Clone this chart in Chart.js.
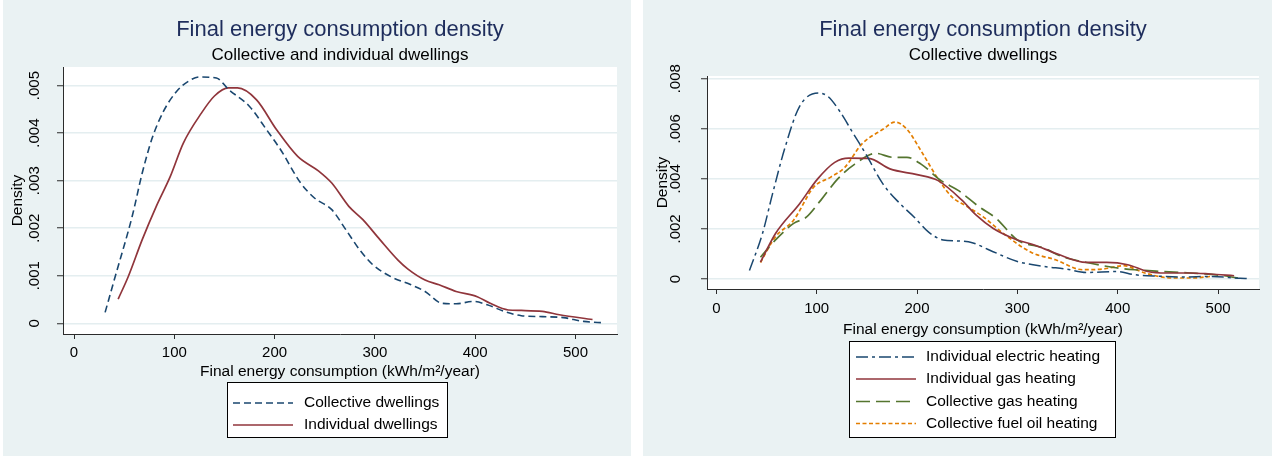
<!DOCTYPE html>
<html><head><meta charset="utf-8">
<script src="https://cdn.jsdelivr.net/npm/chart.js@4.4.1/dist/chart.umd.min.js"></script>
<style>
html,body{margin:0;padding:0;background:#fff;width:1275px;height:459px;overflow:hidden;position:relative}
canvas{position:absolute;top:0}
#c1{left:0}
#c2{left:640px}
</style></head>
<body>
<canvas id="c1" width="640" height="459"></canvas>
<canvas id="c2" width="635" height="459"></canvas>
<script>
// ---------- data ----------
const xTicks = [0, 100, 200, 300, 400, 500];
const xTickLabels = ['0', '100', '200', '300', '400', '500'];
const leftYTicks = [0, 0.001, 0.002, 0.003, 0.004, 0.005];
const leftYTickLabels = ['0', '.001', '.002', '.003', '.004', '.005'];
const rightYTicks = [0, 0.002, 0.004, 0.006, 0.008];
const rightYTickLabels = ['0', '.002', '.004', '.006', '.008'];

const collectiveX = [31, 41, 58, 68, 78, 89, 102, 114, 125, 142, 154, 175, 192, 206, 226, 240, 257, 271, 285, 298, 316, 336, 350, 367, 381, 398, 412, 429, 446, 467, 488, 508, 529];
const collectiveY = [0.00023, 0.00098, 0.00225, 0.00316, 0.0039, 0.00445, 0.00487, 0.00509, 0.00518, 0.00516, 0.00492, 0.00456, 0.00407, 0.00365, 0.00295, 0.00263, 0.00239, 0.00197, 0.00154, 0.00123, 0.00098, 0.00081, 0.00067, 0.00042, 0.00041, 0.00046, 0.00039, 0.00025, 0.00016, 0.00014, 0.00012, 0.00004, 0.00001];

const individualX = [44, 54, 68, 82, 96, 109, 127, 140, 154, 163, 182, 202, 223, 244, 257, 274, 288, 305, 323, 333, 350, 364, 381, 402, 415, 433, 446, 467, 484, 517];
const individualY = [0.00051, 0.00098, 0.00176, 0.00246, 0.00309, 0.00379, 0.00442, 0.00478, 0.00495, 0.00495, 0.0047, 0.00407, 0.00351, 0.0032, 0.00295, 0.00246, 0.00218, 0.00176, 0.00133, 0.00114, 0.00091, 0.00081, 0.00067, 0.00056, 0.00042, 0.00028, 0.00027, 0.00025, 0.00018, 0.00008];

const elecX = [33, 46, 56, 68, 83, 102, 111, 123, 135, 149, 166, 183, 197, 211, 226, 241, 255, 272, 300, 327, 348, 369, 399, 417, 441, 465, 492, 522, 530];
const elecY = [0.00034, 0.00182, 0.0034, 0.00519, 0.0069, 0.00743, 0.0073, 0.0067, 0.00591, 0.00499, 0.0038, 0.00301, 0.00248, 0.00189, 0.00156, 0.00152, 0.00145, 0.00116, 0.0007, 0.0005, 0.0004, 0.00026, 0.0003, 0.00017, 0.00011, 0.00008, 0.0001, 0.00003, 0.00002];

const indGasX = [44, 59, 83, 101, 118, 132, 152, 173, 200, 221, 245, 259, 276, 300, 317, 338, 369, 389, 410, 430, 448, 472, 492, 516];
const indGasY = [0.00067, 0.00182, 0.00301, 0.004, 0.00466, 0.00483, 0.00482, 0.0044, 0.00417, 0.00393, 0.00314, 0.00255, 0.00202, 0.00156, 0.00136, 0.00103, 0.00066, 0.00066, 0.00057, 0.0003, 0.00024, 0.00024, 0.0002, 0.00013];

const colGasX = [44, 59, 77, 90, 104, 121, 138, 159, 176, 190, 204, 224, 241, 262, 279, 300, 327, 344, 369, 396, 417, 444, 472, 506, 522];
const colGasY = [0.00087, 0.00156, 0.00222, 0.00248, 0.00314, 0.004, 0.00459, 0.00502, 0.00486, 0.00486, 0.00459, 0.00393, 0.00354, 0.00288, 0.00242, 0.00156, 0.00123, 0.0009, 0.00066, 0.00046, 0.00037, 0.0003, 0.00024, 0.00013, 0.00002];

const oilX = [44, 59, 77, 97, 114, 128, 145, 166, 178, 190, 204, 221, 235, 248, 266, 286, 314, 338, 365, 386, 406, 427, 454, 475, 492];
const oilY = [0.00066, 0.00169, 0.00235, 0.00367, 0.00407, 0.00446, 0.00539, 0.00598, 0.00627, 0.00598, 0.00512, 0.004, 0.00327, 0.00294, 0.00248, 0.00182, 0.00106, 0.00077, 0.00037, 0.0004, 0.00053, 0.00024, 0.00004, 0.00004, 0.0001];

// ---------- style ----------
const FONT = "'Liberation Sans', Arial, sans-serif";
const BG = '#eaf2f3';
const GRID = '#e4eef0';
const AXIS = '#2b2b2b';
const TITLE_C = '#1e2d5c';
const NAVY = '#1a476f', MAROON = '#90353b', GREEN = '#55752f', ORANGE = '#e37e00';

function pts(xs, ys) { return xs.map((x, i) => ({x: x, y: ys[i]})); }

function ds(label, xs, ys, color, dash, w) {
  return {label, data: pts(xs, ys), borderColor: color, borderDash: dash, borderWidth: w || 1.6,
    pointRadius: 0, fill: false, tension: 0.4, cubicInterpolationMode: 'monotone'};
}

function panelPlugin(cfg) {
  return {
    id: 'panel' + cfg.id,
    beforeDraw(chart) {
      const ctx = chart.ctx, a = chart.chartArea;
      ctx.save();
      ctx.fillStyle = '#fff'; ctx.fillRect(0, 0, chart.width, chart.height);
      ctx.fillStyle = BG; ctx.fillRect(cfg.panel[0], cfg.panel[1], cfg.panel[2] - cfg.panel[0], cfg.panel[3] - cfg.panel[1]);
      ctx.fillStyle = '#fff'; ctx.fillRect(a.left, a.top, a.right - a.left, a.bottom - a.top);
      ctx.restore();
    },
    afterDraw(chart) {
      const ctx = chart.ctx, a = chart.chartArea;
      const xs = chart.scales.x, ys = chart.scales.y;
      const cx = (a.left + a.right) / 2;
      ctx.save();
      ctx.textAlign = 'center'; ctx.textBaseline = 'middle';
      // titles
      ctx.fillStyle = TITLE_C; ctx.font = '22px ' + FONT;
      ctx.fillText(cfg.title, cx, cfg.titleY);
      ctx.fillStyle = '#000'; ctx.font = '17px ' + FONT;
      ctx.fillText(cfg.subtitle, cx, cfg.subY);
      // x tick labels
      ctx.font = '15px ' + FONT;
      xTicks.forEach((v, i) => ctx.fillText(xTickLabels[i], xs.getPixelForValue(v), cfg.xLabY));
      // x title
      ctx.font = '15.5px ' + FONT;
      ctx.fillText('Final energy consumption (kWh/m²/year)', cx, cfg.xTitleY);
      // y tick labels (rotated)
      ctx.font = '15px ' + FONT;
      cfg.yTicks.forEach((v, i) => {
        ctx.save();
        ctx.translate(cfg.yLabX, ys.getPixelForValue(v));
        ctx.rotate(-Math.PI / 2);
        ctx.fillText(cfg.yLabels[i], 0, 0);
        ctx.restore();
      });
      // y title
      ctx.save();
      ctx.translate(cfg.yTitleX, (a.top + a.bottom) / 2);
      ctx.rotate(-Math.PI / 2);
      ctx.font = '15.5px ' + FONT;
      ctx.fillText('Density', 0, 0);
      ctx.restore();
      // legend
      const L = cfg.legend;
      ctx.fillStyle = '#fff';
      ctx.fillRect(L.x, L.y, L.w, L.h);
      ctx.strokeStyle = '#000'; ctx.lineWidth = 1; ctx.setLineDash([]);
      ctx.strokeRect(L.x + 0.5, L.y + 0.5, L.w - 1, L.h - 1);
      chart.data.datasets.forEach((d, i) => {
        const yy = L.rows[i];
        ctx.strokeStyle = d.borderColor; ctx.lineWidth = d.borderWidth;
        ctx.setLineDash(d.borderDash || []);
        ctx.beginPath(); ctx.moveTo(L.sx0, yy); ctx.lineTo(L.sx1, yy); ctx.stroke();
        ctx.setLineDash([]);
        ctx.fillStyle = '#000'; ctx.textAlign = 'left'; ctx.font = '15.5px ' + FONT;
        ctx.fillText(d.label, L.tx, yy);
      });
      ctx.restore();
    }
  };
}

function makeChart(id, datasets, opt, cfg) {
  return new Chart(document.getElementById(id), {
    type: 'line',
    data: {datasets},
    options: {
      responsive: false, animation: false, devicePixelRatio: 1,
      layout: {padding: opt.padding},
      plugins: {legend: {display: false}, title: {display: false}, tooltip: {enabled: false}},
      scales: {
        x: {type: 'linear', min: opt.xmin, max: opt.xmax,
          afterBuildTicks: s => { s.ticks = xTicks.map(v => ({value: v})); },
          afterFit: s => { s.height = 10; },
          ticks: {display: false},
          grid: {display: true, drawOnChartArea: false, drawTicks: true, tickLength: 5, tickColor: AXIS, tickWidth: 1},
          border: {display: true, color: AXIS, width: 1}},
        y: {type: 'linear', min: opt.ymin, max: opt.ymax,
          afterBuildTicks: s => { s.ticks = cfg.yTicks.map(v => ({value: v})); },
          afterFit: s => { s.width = 10; },
          ticks: {display: false},
          grid: {display: true, drawOnChartArea: true, color: GRID, lineWidth: 1.5, drawTicks: true, tickLength: 6, tickColor: AXIS, tickWidth: 1},
          border: {display: true, color: AXIS, width: 1}}
      }
    },
    plugins: [panelPlugin(cfg)]
  });
}

makeChart('c1', [
  ds('Collective dwellings', collectiveX, collectiveY, NAVY, [7, 4], 1.6),
  ds('Individual dwellings', individualX, individualY, MAROON, [], 1.7)
], {padding: {left: 53, right: 23, top: 67, bottom: 115}, xmin: -11, xmax: 541.4, ymin: -0.000225, ymax: 0.00539},
{id: 1, panel: [3, 0, 631, 456], title: 'Final energy consumption density', subtitle: 'Collective and individual dwellings',
 titleY: 30, subY: 55, xLabY: 353, xTitleY: 372, yLabX: 35, yTitleX: 18,
 yTicks: leftYTicks, yLabels: leftYTickLabels,
 legend: {x: 227, y: 382, w: 221, h: 56, rows: [403, 425], sx0: 233, sx1: 293, tx: 304}});

makeChart('c2', [
  ds('Individual electric heating', elecX, elecY, NAVY, [12, 4, 3, 4], 1.5),
  ds('Individual gas heating', indGasX, indGasY, MAROON, [], 1.7),
  ds('Collective gas heating', colGasX, colGasY, GREEN, [14, 6], 1.7),
  ds('Collective fuel oil heating', oilX, oilY, ORANGE, [4, 2.5], 1.7)
], {padding: {left: 57, right: 16, top: 76, bottom: 160}, xmin: -9.3, xmax: 540.8, ymin: -0.0004, ymax: 0.00811},
{id: 2, panel: [3, 0, 632, 456], title: 'Final energy consumption density', subtitle: 'Collective dwellings',
 titleY: 30, subY: 55, xLabY: 309, xTitleY: 330, yLabX: 36, yTitleX: 23,
 yTicks: rightYTicks, yLabels: rightYTickLabels,
 legend: {x: 209, y: 341, w: 267, h: 97, rows: [357, 379, 401.5, 423.5], sx0: 216, sx1: 276, tx: 286}});
</script>
</body></html>
